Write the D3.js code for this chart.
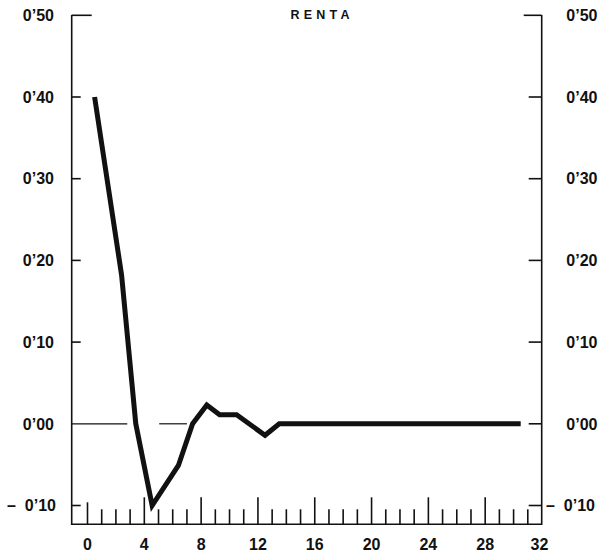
<!DOCTYPE html>
<html>
<head>
<meta charset="utf-8">
<script src="https://cdn.jsdelivr.net/npm/d3@7"></script>
<style>
  html, body { margin: 0; padding: 0; background: #fff; }
  svg { display: block; }
  text { font-family: "Liberation Sans", Arial, Helvetica, sans-serif; font-weight: bold; fill: #111; white-space: pre; }
</style>
</head>
<body>
<svg id="chart" width="603" height="554"></svg>
<script>
// Response of "renta" over the periods after the shock
const periods = [0.5, 2.4, 3.4, 4.55, 6.4, 7.4, 8.4, 9.3, 10.5, 12.5, 13.5, 30.5];
const renta   = [0.40, 0.182, 0.0, -0.100, -0.051, 0.0, 0.023, 0.011, 0.011, -0.014, 0.0, 0.0];

// Axis ticks and their labels
const yTicks = [-0.10, 0.00, 0.10, 0.20, 0.30, 0.40, 0.50];
const yTickLabels = ["\u2013  0\u201910", "0\u201900", "0\u201910", "0\u201920", "0\u201930", "0\u201940", "0\u201950"];
const xLabelTicks = [0, 4, 8, 12, 16, 20, 24, 28, 32];
const xMinorTicks = d3.range(0, 32);          // one tick per period
const zeroLineSpans = [[-1.1, 2.8], [5.05, 7.0]]; // broken reference line at 0

const svg = d3.select("#chart");
const ink = "#111";

const frame = { left: 71.7, right: 541.7, top: 15, bottom: 524.3 };

const x = d3.scaleLinear().domain([0, 32]).range([87.5, 542]);
const y = d3.scaleLinear().domain([-0.1, 0.5]).range([505.5, 15.3]);

// Title
svg.append("text")
  .attr("x", 290.5).attr("y", 18.5)
  .style("font-size", "12.5px")
  .style("letter-spacing", "4.2px")
  .text("RENTA");

// Frame: left, right and bottom lines
svg.append("path")
  .attr("d", `M${frame.left},${frame.top}V${frame.bottom}H${frame.right}V${frame.top}`)
  .attr("stroke", ink).attr("stroke-width", 1.6).attr("fill", "none");

// Left value ticks (inward)
svg.append("g").selectAll("line").data(yTicks.filter(v => v !== 0)).join("line")
  .attr("x1", frame.left)
  .attr("x2", v => frame.left + (v === 0.5 ? 20 : 9))
  .attr("y1", v => y(v)).attr("y2", v => y(v))
  .attr("stroke", ink).attr("stroke-width", 1.6);

// Right value ticks (inward)
svg.append("g").selectAll("line").data(yTicks).join("line")
  .attr("x1", frame.right)
  .attr("x2", v => frame.right - (v === 0.5 ? 18 : 13))
  .attr("y1", v => y(v)).attr("y2", v => y(v))
  .attr("stroke", ink).attr("stroke-width", 1.6);

// Reference line at zero
svg.append("g").selectAll("line").data(zeroLineSpans).join("line")
  .attr("x1", d => x(d[0])).attr("x2", d => x(d[1]))
  .attr("y1", y(0)).attr("y2", y(0))
  .attr("stroke", ink).attr("stroke-width", 1.2);

// Value labels on both sides
svg.append("g").selectAll("text").data(yTicks).join("text")
  .attr("x", v => v < 0 ? 56 : 54).attr("y", v => y(v)).attr("dy", "0.36em")
  .attr("text-anchor", "end")
  .style("font-size", "16px")
  .text((v, i) => yTickLabels[i]);

svg.append("g").selectAll("text").data(yTicks).join("text")
  .attr("x", v => v < 0 ? 595 : 597.5).attr("y", v => y(v)).attr("dy", "0.36em")
  .attr("text-anchor", "end")
  .style("font-size", "16px")
  .text((v, i) => yTickLabels[i]);

// Period axis: ticks rise from the baseline
const xAxisG = svg.append("g");
xAxisG.selectAll("line").data(xMinorTicks).join("line")
  .attr("x1", d => x(d)).attr("x2", d => x(d))
  .attr("y1", frame.bottom)
  .attr("y2", d => frame.bottom - (d % 4 === 0 ? (d === 0 ? 22 : 27) : 15))
  .attr("stroke", ink).attr("stroke-width", 1.6);

xAxisG.selectAll("text").data(xLabelTicks).join("text")
  .attr("x", d => Math.min(x(d), 539.5)).attr("y", 549.5)
  .attr("text-anchor", "middle")
  .style("font-size", "16px")
  .text(d => d);

// The response curve
const line = d3.line()
  .x((d, i) => x(periods[i]))
  .y(d => y(d));

svg.append("path")
  .datum(renta)
  .attr("d", line)
  .attr("fill", "none")
  .attr("stroke", ink)
  .attr("stroke-width", 5)
  .attr("stroke-linejoin", "miter")
  .attr("stroke-linecap", "butt");
</script>
</body>
</html>
